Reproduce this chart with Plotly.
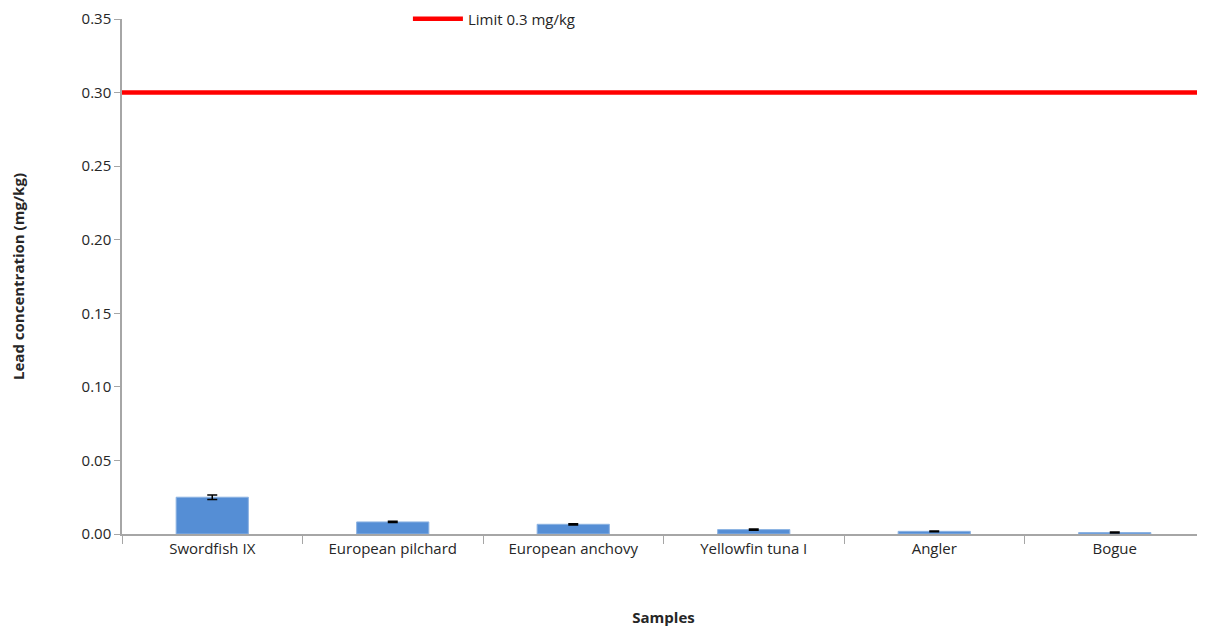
import plotly.graph_objects as go

categories = ["Swordfish IX", "European pilchard", "European anchovy", "Yellowfin tuna I", "Angler", "Bogue"]
lead_values = [0.025, 0.0082, 0.0066, 0.0030, 0.0018, 0.0010]
lead_errors = [0.0015, 0.0004, 0.0004, 0.0004, 0.0003, 0.0003]
limit_value = 0.3
limit_label = "Limit 0.3 mg/kg"
y_ticks = [0, 0.05, 0.10, 0.15, 0.20, 0.25, 0.30, 0.35]

font_family = "Open Sans, Liberation Sans, sans-serif"
text_color = "#262626"

fig = go.Figure()
fig.add_trace(go.Bar(
    x=categories, y=lead_values,
    error_y=dict(type="data", array=lead_errors, color="black", thickness=1.5, width=5),
    marker=dict(color="#558ED5", line=dict(color="#8DB3E2", width=1)),
    width=0.4, showlegend=False,
))
fig.add_trace(go.Scatter(
    x=[0, 1], y=[limit_value, limit_value], xaxis="x2",
    mode="lines", line=dict(color="#FF0000", width=4.5),
    name=limit_label, showlegend=True,
))

fig.update_layout(
    width=1197, height=619,
    margin=dict(l=114, r=0, t=11, b=93, autoexpand=False),
    plot_bgcolor="white", paper_bgcolor="white",
    font=dict(family=font_family, size=14, color=text_color),
    xaxis=dict(
        title=dict(text="<b>Samples</b>", font=dict(size=15), standoff=64),
        showline=True, linecolor="#A6A6A6", linewidth=1.5,
        ticks="outside", tickcolor="#A6A6A6", ticklen=8, tickson="boundaries",
        showgrid=False, tickfont=dict(size=15), automargin=False,
    ),
    xaxis2=dict(overlaying="x", range=[0, 1], visible=False),
    yaxis=dict(
        title=dict(text="<b>Lead concentration (mg/kg)</b>", font=dict(size=15), standoff=55),
        range=[0, 0.35], tickvals=y_ticks, tickformat=".2f",
        showline=True, linecolor="#A6A6A6", linewidth=1.5,
        ticks="outside", tickcolor="#A6A6A6", ticklen=6, ticklabeloverflow="allow",
        showgrid=False, zeroline=False, tickfont=dict(size=15), automargin=False,
    ),
    legend=dict(x=0.264, y=1.0, xanchor="left", yanchor="middle",
                font=dict(size=15), bgcolor="rgba(0,0,0,0)", itemwidth=50),
)

fig.write_html("out.html")
